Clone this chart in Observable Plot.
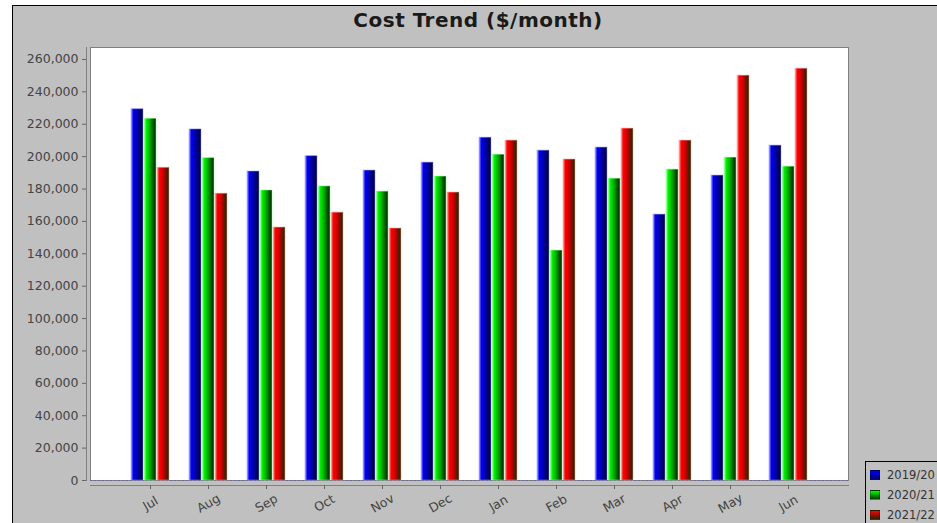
<!DOCTYPE html>
<html><head><meta charset="utf-8">
<script src="https://cdn.jsdelivr.net/npm/d3@7"></script>
<script src="https://cdn.jsdelivr.net/npm/@observablehq/plot@0.6"></script>
<style>
html,body{margin:0;padding:0;overflow:hidden;background:#fff;}
#page{position:relative;width:937px;height:523px;overflow:hidden;font-family:"DejaVu Sans",sans-serif;}
#panel{position:absolute;left:12px;top:5px;width:940px;height:530px;background:#c0c0c0;border-left:1px solid #000;border-top:1px solid #000;}
#title{position:absolute;left:12px;width:932px;top:8px;text-align:center;font-size:20px;font-weight:bold;letter-spacing:0.5px;color:#1a1a1a;white-space:nowrap;}
.layer{position:absolute;left:0;top:40px;}
#legend{position:absolute;left:865px;top:461px;width:110px;height:80px;border:1px solid #000;background:#c0c0c0;font-size:11.5px;color:#333;}
.item{position:absolute;left:4px;height:12px;white-space:nowrap;}
.sw{position:absolute;left:0;top:1px;width:10px;height:10px;box-sizing:border-box;border:1px solid rgba(0,0,0,0.25);}
.lab{position:absolute;left:17px;top:-1px;}
</style></head>
<body>
<div id="page">
  <div id="panel"></div>
  <div id="title">Cost Trend ($/month)</div>
  <div id="base" class="layer"></div>
  <div id="bars" class="layer"></div>
  <div id="legend"></div>
</div>
<script>
const months = ["Jul","Aug","Sep","Oct","Nov","Dec","Jan","Feb","Mar","Apr","May","Jun"];
const seriesNames = ["2019/20","2020/21","2021/22"];
const cost2019 = [229300,216800,190800,200300,191400,196300,211700,203700,205600,164200,188300,206800];
const cost2020 = [223400,199100,179100,181600,178400,187700,201200,142000,186400,192000,199400,193800];
const cost2021 = [193100,177100,156200,165400,155600,177800,209900,198200,217300,209900,250000,254300];
const yTicks = [0,20000,40000,60000,80000,100000,120000,140000,160000,180000,200000,220000,240000,260000];

const seriesValues = [cost2019, cost2020, cost2021];
const rows = months.flatMap((m, i) => seriesNames.map((s, j) => ({month: m, series: s, value: seriesValues[j][i]})));

const gradStops = [
  [[0,"#b8b8ff"],[0.1,"#4848ff"],[0.2,"#0000f4"],[0.5,"#0000b0"],[0.85,"#000058"],[1,"#000040"]],
  [[0,"#b8ffb8"],[0.1,"#48ff48"],[0.2,"#00ee00"],[0.5,"#00aa00"],[0.85,"#004400"],[1,"#003000"]],
  [[0,"#ffb8b8"],[0.1,"#ff4848"],[0.2,"#ff0000"],[0.55,"#c80000"],[0.85,"#402000"],[1,"#303000"]]
];
const halo = ["#9090ff","#90ff90","#ff9090"];
const swatch = ["linear-gradient(#0000ff,#000070)","linear-gradient(#00ff00,#004000)","linear-gradient(#ff0000,#302000)"];

const dims = {width: 937, height: 483, marginLeft: 90, marginRight: 89, marginTop: 7, marginBottom: 43};
const monthBand = {domain: months, paddingInner: 0.351, paddingOuter: 0.648};
const yScale = {domain: [0, 267400]};
const style = {background: "transparent", fontFamily: "DejaVu Sans", fontSize: "12.5px", color: "#444", overflow: "visible"};

// Base layer: plot area, axes, zero line (non-faceted, same month band as the facets)
const base = Plot.plot({
  ...dims, style,
  x: {type: "band", ...monthBand, label: null},
  y: yScale,
  marks: [
    Plot.frame({fill: "white", stroke: "#808080"}),
    Plot.ruleY([0], {stroke: "#6a6a9a", strokeDasharray: "2,2"}),
    Plot.frame({anchor: "left", dx: -4, stroke: "#808080"}),
    Plot.frame({anchor: "bottom", dy: 5, stroke: "#808080"}),
    Plot.axisY({ticks: yTicks, tickFormat: d3.format(","), tickSize: 4, tickPadding: 4, dx: -4, label: null, stroke: "#666", fill: "#444"}),
    Plot.axisX({anchor: "bottom", tickSize: 4, dy: 5, tickFormat: () => null, label: null, stroke: "#666"}),
    Plot.axisX({anchor: "bottom", tickSize: 0, tickPadding: 18, dy: 5, tickRotate: -30, textAnchor: "middle", lineAnchor: "middle", label: null, fill: "#444"})
  ]
});
document.getElementById("base").appendChild(base);

// Bar layer: grouped bars via month facets
const bars = Plot.plot({
  ...dims, style,
  fx: {...monthBand, axis: null, label: null},
  x: {domain: seriesNames, paddingInner: 0.08, paddingOuter: 0, axis: null},
  y: {...yScale, axis: null},
  marks: seriesNames.map((s, j) => Plot.barY(rows.filter(r => r.series === s), {
    fx: "month", x: "series", y: "value", fill: `url(#grad${j})`, stroke: halo[j], strokeOpacity: 0.5, strokeWidth: 1
  }))
});
const defs = d3.select(bars).insert("defs", ":first-child");
gradStops.forEach((stops, j) => {
  const g = defs.append("linearGradient").attr("id", `grad${j}`).attr("x1", 0).attr("x2", 1).attr("y1", 0).attr("y2", 0);
  stops.forEach(([o, c]) => g.append("stop").attr("offset", o).attr("stop-color", c));
});
document.getElementById("bars").appendChild(bars);

const legend = d3.select("#legend");
seriesNames.forEach((s, j) => {
  const it = legend.append("div").attr("class", "item").style("top", (7 + j * 20) + "px");
  it.append("div").attr("class", "sw").style("background", swatch[j]);
  it.append("div").attr("class", "lab").text(s);
});
</script>
</body></html>
